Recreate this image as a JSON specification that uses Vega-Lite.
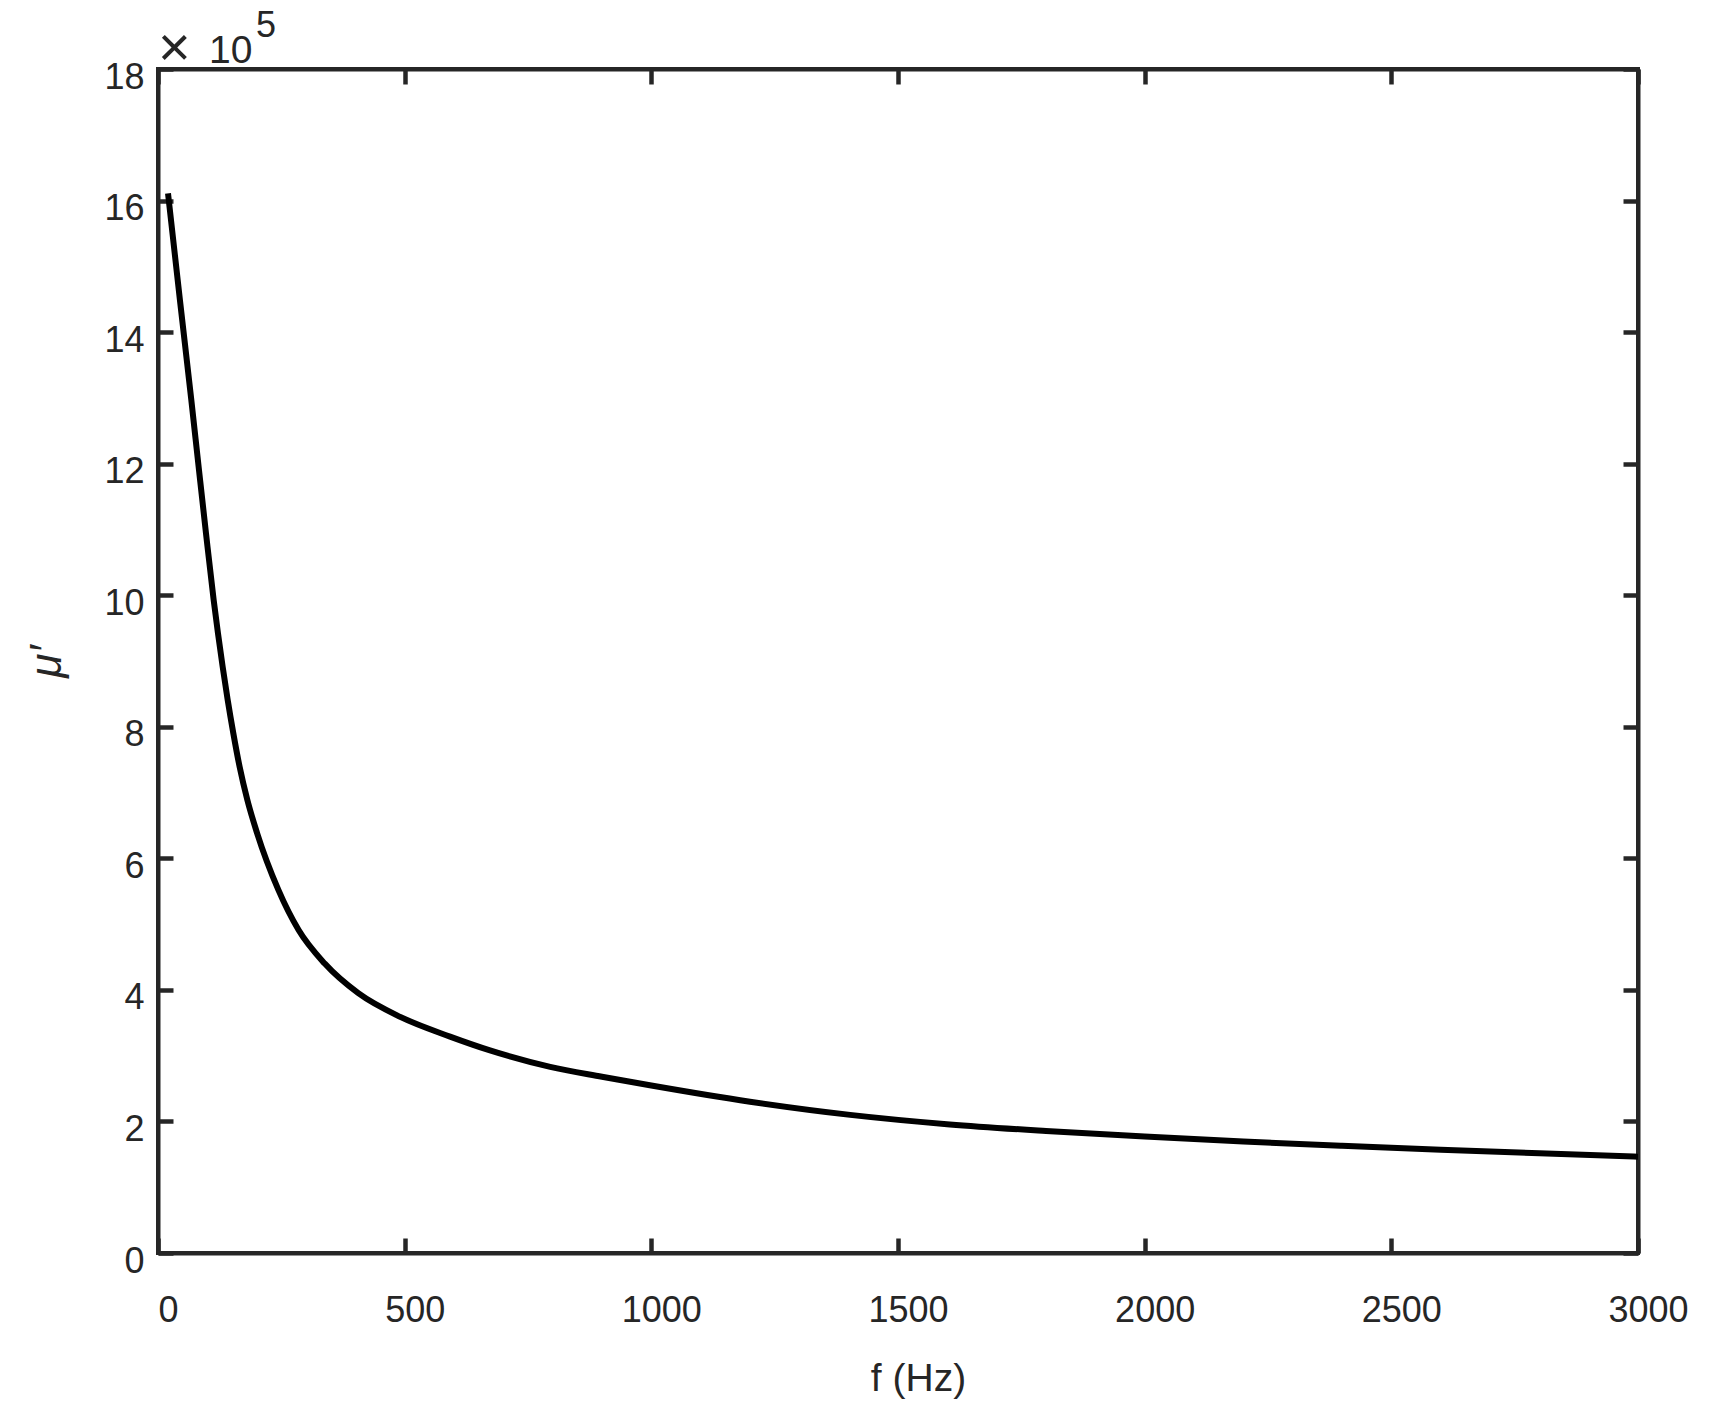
{
  "$schema": "https://vega.github.io/schema/vega-lite/v6.json",
  "width": 1480,
  "height": 1184,
  "autosize": {"type": "none"},
  "padding": {"left": 158, "top": 69, "right": 78, "bottom": 157},
  "background": "white",
  "config": {
    "view": {"stroke": "#262626", "strokeWidth": 4},
    "axis": {
      "grid": false,
      "domainColor": "#262626",
      "domainWidth": 4,
      "tickColor": "#262626",
      "tickWidth": 4.5,
      "tickSize": -15,
      "labelFont": "Liberation Sans",
      "labelFontSize": 36,
      "labelColor": "#262626",
      "labelFlush": false,
      "titleFont": "Liberation Sans",
      "titleColor": "#262626",
      "titleFontWeight": "normal"
    }
  },
  "datasets": {
    "curve": [
      {"f": 20.3, "mu": 1611000},
      {"f": 44.4, "mu": 1449000},
      {"f": 67.5, "mu": 1297000},
      {"f": 82.4, "mu": 1195000},
      {"f": 97.3, "mu": 1094000},
      {"f": 112.8, "mu": 993000},
      {"f": 121.6, "mu": 942000},
      {"f": 131.1, "mu": 891000},
      {"f": 141.2, "mu": 841000},
      {"f": 152.7, "mu": 790000},
      {"f": 165.5, "mu": 739000},
      {"f": 181, "mu": 689000},
      {"f": 201, "mu": 638000},
      {"f": 244, "mu": 552000},
      {"f": 285, "mu": 491000},
      {"f": 338, "mu": 440000},
      {"f": 406, "mu": 395000},
      {"f": 491, "mu": 359000},
      {"f": 592, "mu": 329000},
      {"f": 673, "mu": 308000},
      {"f": 795, "mu": 283000},
      {"f": 900, "mu": 268000},
      {"f": 997, "mu": 255000},
      {"f": 1200, "mu": 230000},
      {"f": 1403, "mu": 210000},
      {"f": 1605, "mu": 195500},
      {"f": 1800, "mu": 185500},
      {"f": 2000, "mu": 177000},
      {"f": 2200, "mu": 169500},
      {"f": 2400, "mu": 163000},
      {"f": 2600, "mu": 157000},
      {"f": 2800, "mu": 151500},
      {"f": 3000, "mu": 146500}
    ]
  },
  "resolve": {"axis": {"x": "independent", "y": "independent"}},
  "layer": [
    {
      "data": {"name": "curve"},
      "mark": {"type": "line", "color": "black", "strokeWidth": 6, "interpolate": "monotone", "clip": true},
      "encoding": {
        "x": {
          "field": "f", "type": "quantitative",
          "scale": {"domain": [0, 3000], "nice": false, "zero": false},
          "axis": {
            "orient": "bottom", "values": [0, 500, 1000, 1500, 2000, 2500, 3000],
            "labelPadding": 55, "labelOffset": 10, "format": "d",
            "title": "f (Hz)", "titleFontSize": 39,
            "titleX": 760, "titleY": 137, "titleBaseline": "alphabetic", "titleAlign": "center"
          }
        },
        "y": {
          "field": "mu", "type": "quantitative",
          "scale": {"domain": [0, 1800000], "nice": false},
          "axis": {
            "orient": "left", "values": [0, 200000, 400000, 600000, 800000, 1000000, 1200000, 1400000, 1600000, 1800000],
            "labelExpr": "format(datum.value / 100000, 'd')",
            "labelPadding": 29, "labelOffset": 8,
            "title": "μ′", "titleFontSize": 44, "titleFontStyle": "italic",
            "titleAngle": -90, "titleX": -98, "titleY": 592, "titleBaseline": "alphabetic", "titleAlign": "center"
          }
        }
      }
    },
    {
      "data": {"name": "curve"},
      "mark": {"type": "line", "opacity": 0},
      "encoding": {
        "x": {
          "field": "f", "type": "quantitative",
          "axis": {"orient": "top", "values": [0, 500, 1000, 1500, 2000, 2500, 3000], "labels": false, "title": null}
        },
        "y": {
          "field": "mu", "type": "quantitative",
          "axis": {"orient": "right", "values": [0, 200000, 400000, 600000, 800000, 1000000, 1200000, 1400000, 1600000, 1800000], "labels": false, "title": null}
        }
      }
    },
    {
      "data": {"values": [{}]},
      "mark": {"type": "text", "text": "×", "font": "Liberation Sans", "fontSize": 56, "color": "#262626", "align": "left", "baseline": "alphabetic", "dx": 0, "dy": -3},
      "encoding": {
        "x": {"datum": 0, "type": "quantitative", "axis": null},
        "y": {"datum": 1800000, "type": "quantitative", "axis": null}
      }
    },
    {
      "data": {"values": [{}]},
      "mark": {"type": "text", "text": "10", "font": "Liberation Sans", "fontSize": 39, "color": "#262626", "align": "left", "baseline": "alphabetic", "dx": 51, "dy": -6},
      "encoding": {
        "x": {"datum": 0, "type": "quantitative", "axis": null},
        "y": {"datum": 1800000, "type": "quantitative", "axis": null}
      }
    },
    {
      "data": {"values": [{}]},
      "mark": {"type": "text", "text": "5", "font": "Liberation Sans", "fontSize": 36, "color": "#262626", "align": "left", "baseline": "alphabetic", "dx": 98, "dy": -32},
      "encoding": {
        "x": {"datum": 0, "type": "quantitative", "axis": null},
        "y": {"datum": 1800000, "type": "quantitative", "axis": null}
      }
    }
  ]
}
